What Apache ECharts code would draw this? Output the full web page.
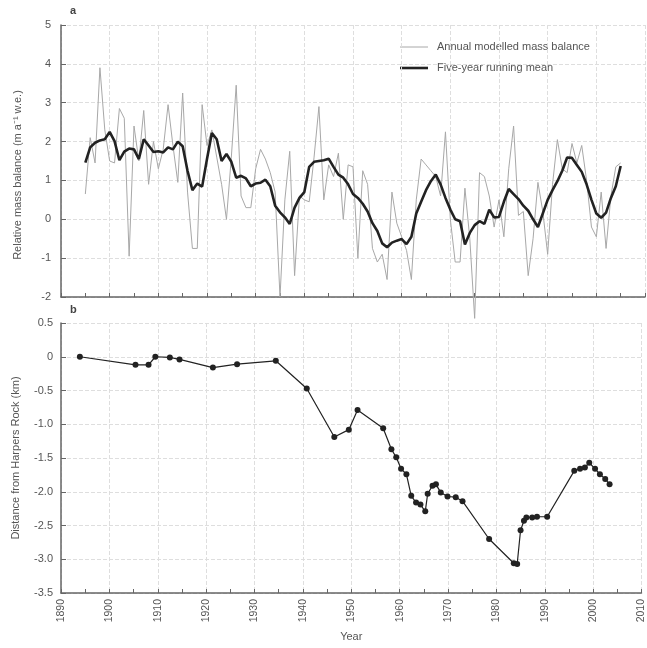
<!DOCTYPE html>
<html>
<head>
<meta charset="utf-8">
<script src="https://cdn.jsdelivr.net/npm/echarts@6/dist/echarts.min.js"></script>
<style>
html,body{margin:0;padding:0;background:#fff;}
#chart{width:647px;height:648px;}
</style>
</head>
<body>
<div id="chart"></div>
<script>
// ---- data ----
const firstYear = 1895; // first year of the mass-balance record
const annualMassBalance = [
  0.65, 2.1, 1.45, 3.9, 2.3, 1.5, 1.45, 2.85, 2.6, -0.95,
  2.4, 1.5, 2.8, 0.9, 2.0, 1.3, 1.8, 2.95, 1.9, 0.95,
  3.25, 0.7, -0.75, -0.75, 2.95, 1.9, 2.3, 1.6, 0.9, 0.0,
  1.6, 3.45, 0.6, 0.3, 0.3, 1.3, 1.8, 1.55, 1.2, 0.7,
  -2.0, 0.5, 1.75, -1.45, 0.6, 0.5, 0.45, 1.6, 2.9, 0.5,
  1.4, 1.1, 1.7, 0.0, 1.4, 1.35, -1.0, 1.25, 0.9, -0.75,
  -1.1, -0.9, -1.55, 0.7, -0.1, -0.45, -0.8, -1.55, 0.5, 1.55,
  1.4, 1.25, 1.1, 0.6, 2.25, 0.0, -1.1, -1.1, 0.8, -0.5,
  -2.55, 1.2, 1.1, 0.6, -0.2, 0.5, -0.45, 1.3, 2.4, 0.1,
  0.2, -1.45, -0.5, 0.95, 0.2, -0.9, 0.9, 2.05, 1.3, 1.2,
  1.95, 1.45, 1.9, 1.0, -0.2, -0.45, 0.7, -0.75, 0.6, 1.35,
  1.45
];
const runningMean = [
  1.46, 1.85, 1.97, 2.03, 2.06, 2.25, 2.01, 1.52, 1.74, 1.82,
  1.80, 1.55, 2.06, 1.90, 1.73, 1.75, 1.72, 1.85, 1.80, 2.0,
  1.88, 1.25, 0.75, 0.92, 0.84, 1.55, 2.22, 2.06, 1.50, 1.68,
  1.48, 1.07, 1.12, 1.05, 0.85, 0.92, 0.94, 1.02, 0.85, 0.35,
  0.18, 0.05, -0.12, 0.30, 0.55, 0.70, 1.35, 1.48, 1.50, 1.52,
  1.56, 1.35, 1.15, 1.07, 0.90, 0.65, 0.55, 0.40, 0.20, -0.10,
  -0.30, -0.62, -0.72, -0.60, -0.55, -0.51, -0.64, -0.45, 0.15, 0.45,
  0.75, 0.98, 1.15, 0.90, 0.55, 0.25, 0.0, -0.05, -0.65, -0.35,
  -0.15, -0.05, -0.12, 0.25, 0.05, 0.06, 0.45, 0.78, 0.65, 0.52,
  0.35, 0.22, 0.0, -0.20, 0.15, 0.50, 0.75, 0.98, 1.25, 1.59,
  1.58, 1.40, 1.22, 0.90, 0.50, 0.15, 0.04, 0.17, 0.55, 0.85,
  1.37
];
const frontYears = [
  1893.9, 1905.4, 1908.1, 1909.5, 1912.5, 1914.5, 1921.4, 1926.4, 1934.4, 1940.8,
  1946.5, 1949.5, 1951.3, 1956.6, 1958.3, 1959.3, 1960.3, 1961.4, 1962.4, 1963.4,
  1964.3, 1965.3, 1965.8, 1966.8, 1967.5, 1968.5, 1969.9, 1971.6, 1973.0, 1978.5,
  1983.6, 1984.3, 1985.0, 1985.7, 1986.2, 1987.4, 1988.4, 1990.5, 1996.1, 1997.3,
  1998.3, 1999.2, 2000.4, 2001.4, 2002.5, 2003.4
];
const frontDistance = [
  0.0, -0.12, -0.12, 0.0, -0.01, -0.04, -0.16, -0.11, -0.06, -0.47,
  -1.19, -1.08, -0.79, -1.06, -1.37, -1.49, -1.66, -1.74, -2.06, -2.16,
  -2.19, -2.29, -2.03, -1.91, -1.89, -2.01, -2.07, -2.08, -2.14, -2.70,
  -3.06, -3.07, -2.57, -2.43, -2.38, -2.38, -2.37, -2.37, -1.69, -1.66,
  -1.64, -1.57, -1.66, -1.74, -1.81, -1.89
];
const legendLabels = ['Annual modelled mass balance', 'Five-year running mean'];
const topYTicks = {min: -2, max: 5, interval: 1};
const botYTicks = {min: -3.5, max: 0.5, interval: 0.5};
const xTicks = {min: 1890, max: 2010, interval: 10};

// ---- build ----
const annualPairs = annualMassBalance.map((v, i) => [firstYear + i, v]);
const meanPairs = runningMean.map((v, i) => [firstYear + i, v]);
const frontPairs = frontYears.map((y, i) => [y, frontDistance[i]]);

const FONT = 'Liberation Sans, Arial, sans-serif';
const axisCol = '#666';
const labelCol = '#555';
const annualCol = '#a8a8a8';
const meanCol = '#222';
const gridLine = {show: true, lineStyle: {color: '#dedede', width: 1, type: [4, 2]}};

function xAxisCfg(gridIndex, showLabels) {
  return {
    type: 'value', gridIndex, min: xTicks.min, max: xTicks.max, interval: xTicks.interval,
    axisLine: {show: true, onZero: false, lineStyle: {color: axisCol, width: 1.5}},
    axisTick: {show: true, inside: true, length: 4, lineStyle: {color: axisCol}},
    minorTick: {show: true, splitNumber: 2, length: 4, lineStyle: {color: axisCol}},
    splitLine: gridLine,
    axisLabel: {show: showLabels, rotate: 90, color: labelCol, fontSize: 10.5, fontFamily: FONT, margin: 6,
      showMaxLabel: true, showMinLabel: true, formatter: v => String(v)},
    name: showLabels ? 'Year' : '', nameLocation: 'middle', nameGap: 38,
    nameTextStyle: {color: labelCol, fontSize: 11, fontFamily: FONT}
  };
}

const option = {
  animation: false,
  backgroundColor: '#fff',
  grid: [
    {left: 61, right: 2, top: 25, height: 272},
    {left: 61, right: 2, top: 323, height: 270}
  ],
  xAxis: [xAxisCfg(0, false), xAxisCfg(1, true)],
  yAxis: [
    {
      type: 'value', gridIndex: 0, min: topYTicks.min, max: topYTicks.max, interval: topYTicks.interval,
      axisLine: {show: true, onZero: false, lineStyle: {color: axisCol, width: 1.5}},
      axisTick: {show: true, inside: true, length: 5, lineStyle: {color: axisCol}},
      splitLine: gridLine,
      axisLabel: {color: labelCol, fontSize: 11, fontFamily: FONT, margin: 10},
      name: 'Relative mass balance (m a\u207B\u00B9 w.e.)', nameLocation: 'middle', nameGap: 38,
      nameTextStyle: {color: labelCol, fontSize: 11, fontFamily: FONT, padding: [0, 0, 0, -28]}
    },
    {
      type: 'value', gridIndex: 1, min: botYTicks.min, max: botYTicks.max, interval: botYTicks.interval,
      axisLine: {show: true, onZero: false, lineStyle: {color: axisCol, width: 1.5}},
      axisTick: {show: true, inside: true, length: 5, lineStyle: {color: axisCol}},
      splitLine: gridLine,
      axisLabel: {color: labelCol, fontSize: 11, fontFamily: FONT, margin: 8,
        formatter: v => (v === 0 ? '0' : v.toFixed(1))},
      name: 'Distance from Harpers Rock (km)', nameLocation: 'middle', nameGap: 40,
      nameTextStyle: {color: labelCol, fontSize: 11, fontFamily: FONT}
    }
  ],
  graphic: [
    {type: 'text', left: 70, top: 5, style: {text: 'a', fontSize: 11, fontWeight: 'bold', fill: '#444', fontFamily: FONT}},
    {type: 'text', left: 70, top: 304, style: {text: 'b', fontSize: 11, fontWeight: 'bold', fill: '#444', fontFamily: FONT}},
    {type: 'line', shape: {x1: 400, y1: 47, x2: 428, y2: 47}, style: {stroke: annualCol, lineWidth: 1}},
    {type: 'line', shape: {x1: 400, y1: 68, x2: 428, y2: 68}, style: {stroke: meanCol, lineWidth: 2.6}},
    {type: 'text', x: 437, y: 47, style: {text: legendLabels[0], fontSize: 11, fill: labelCol, fontFamily: FONT, verticalAlign: 'middle'}},
    {type: 'text', x: 437, y: 68, style: {text: legendLabels[1], fontSize: 11, fill: labelCol, fontFamily: FONT, verticalAlign: 'middle'}}
  ],
  series: [
    {
      name: legendLabels[0], type: 'line', xAxisIndex: 0, yAxisIndex: 0,
      data: annualPairs, showSymbol: false, symbol: 'none', clip: false,
      lineStyle: {color: annualCol, width: 1}, itemStyle: {color: annualCol}, z: 2
    },
    {
      name: legendLabels[1], type: 'line', xAxisIndex: 0, yAxisIndex: 0,
      data: meanPairs, showSymbol: false, symbol: 'none',
      lineStyle: {color: meanCol, width: 2.6}, itemStyle: {color: meanCol}, z: 3
    },
    {
      name: 'Front position', type: 'line', xAxisIndex: 1, yAxisIndex: 1,
      data: frontPairs, symbol: 'circle', symbolSize: 6,
      lineStyle: {color: '#222', width: 1.2}, itemStyle: {color: '#222'}
    }
  ]
};

const chart = echarts.init(document.getElementById('chart'), null, {renderer: 'canvas'});
chart.setOption(option);
</script>
</body>
</html>
